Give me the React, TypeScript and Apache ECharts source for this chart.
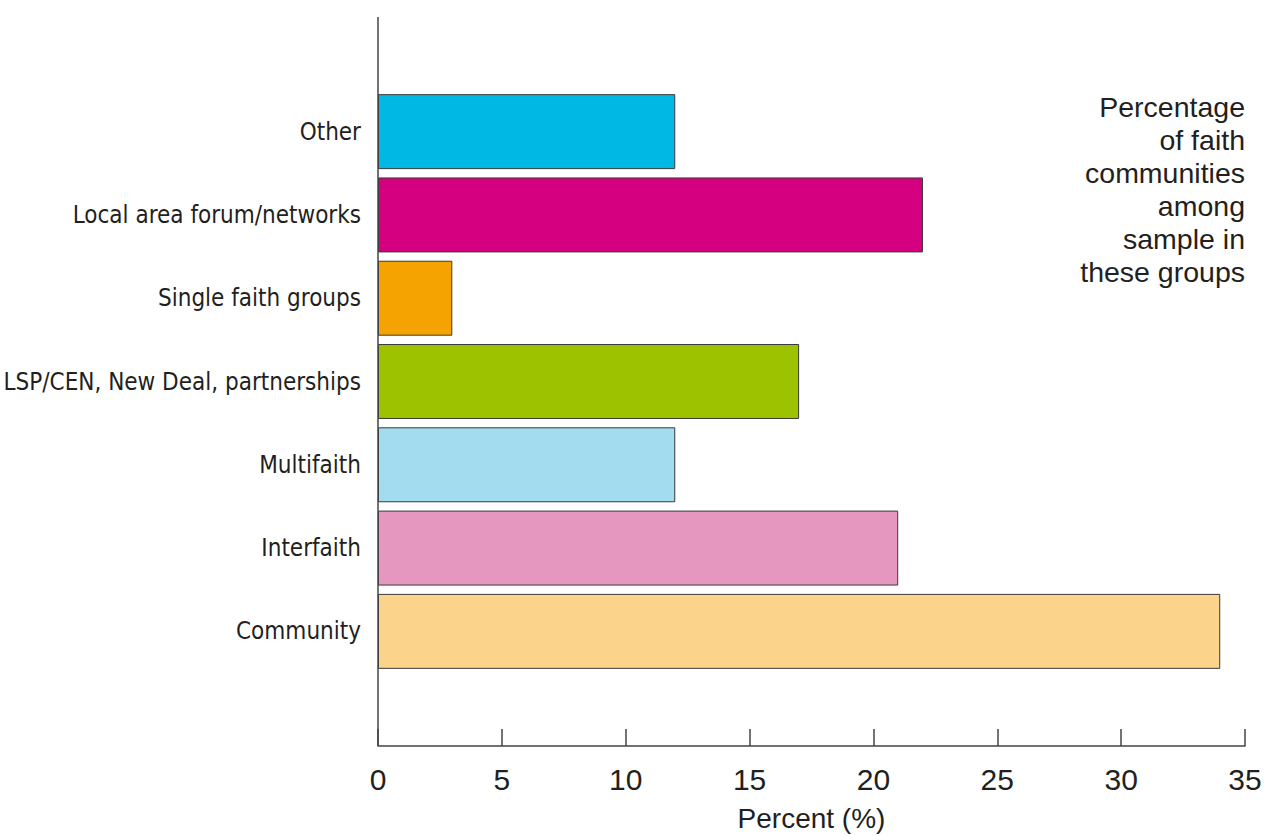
import React, { useEffect, useRef } from "react";
import * as echarts from "echarts";

const categories = [
  "Community",
  "Interfaith",
  "Multifaith",
  "LSP/CEN, New Deal, partnerships",
  "Single faith groups",
  "Local area forum/networks",
  "Other",
];
const values = [34, 21, 12, 17, 3, 22, 12];
const colors = ["#fbd38a", "#e597c0", "#a3dbef", "#9cc200", "#f5a300", "#d5007f", "#00b8e4"];
const xTicks = [0, 5, 10, 15, 20, 25, 30, 35];
const noteLines = ["Percentage", "of faith", "communities", "among", "sample in", "these groups"];

export default function App() {
  const ref = useRef<HTMLDivElement>(null);
  useEffect(() => {
    const chart = echarts.init(ref.current!, null, { renderer: "svg" });
    const textColor = "#231f20";
    const axisColor = "#444444";
    chart.setOption({
      animation: false,
      backgroundColor: "#ffffff",
      grid: { left: 378, right: 19, top: 90, bottom: 163, containLabel: false, outerBoundsMode: "none" },
      xAxis: {
        type: "value",
        min: xTicks[0],
        max: xTicks[xTicks.length - 1],
        interval: 5,
        offset: 73,
        name: "Percent (%)",
        nameLocation: "middle",
        nameGap: 58,
        nameMoveOverlap: false,
        nameTextStyle: { fontFamily: "Liberation Sans", fontSize: 28, color: textColor },
        axisLine: { show: true, lineStyle: { color: axisColor, width: 1.5 } },
        axisTick: { show: true, inside: true, length: 17, lineStyle: { color: axisColor, width: 1.5 } },
        axisLabel: { fontFamily: "Liberation Sans", fontSize: 30, color: textColor, margin: 18 },
        splitLine: { show: false },
      },
      yAxis: {
        type: "category",
        data: categories,
        axisLine: { show: false },
        axisTick: { show: false },
        axisLabel: {
          fontFamily: "'DejaVu Sans Condensed', 'Liberation Sans Narrow', 'Liberation Sans', sans-serif",
          fontSize: 24,
          color: textColor,
          margin: 17,
        },
      },
      series: [
        {
          type: "bar",
          barCategoryGap: "10%",
          data: values.map((v, i) => ({
            value: v,
            itemStyle: { color: colors[i], borderColor: "#3a3a3a", borderWidth: 1 },
          })),
        },
      ],
      graphic: [
        {
          type: "line",
          shape: { x1: 378, y1: 17, x2: 378, y2: 746 },
          style: { stroke: axisColor, lineWidth: 1.5 },
          z: 10,
        },
        {
          type: "text",
          x: 1245,
          y: 90,
          style: {
            text: noteLines.join("\n"),
            textAlign: "right",
            textVerticalAlign: "top",
            fontFamily: "Liberation Sans",
            fontSize: 28.5,
            lineHeight: 33,
            fill: textColor,
          },
        },
      ],
    });
    return () => chart.dispose();
  }, []);
  return (
    <div
      ref={ref}
      style={{ position: "absolute", left: 0, top: 0, width: 1264, height: 836 }}
    />
  );
}
